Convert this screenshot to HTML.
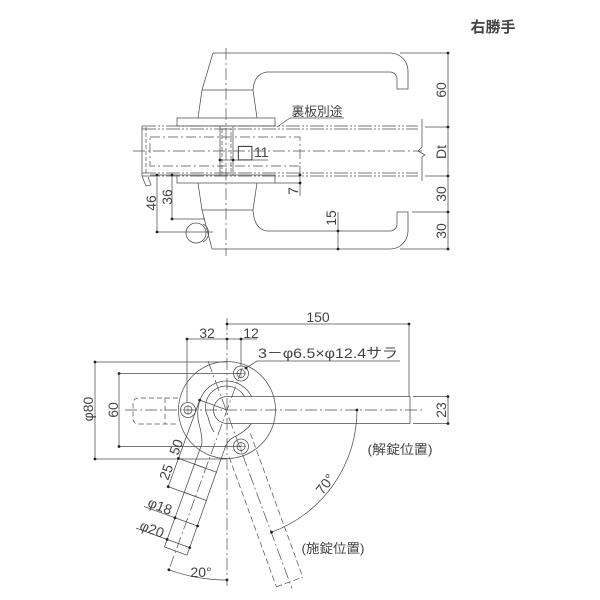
<!DOCTYPE html>
<html><head><meta charset="utf-8">
<style>
html,body{margin:0;padding:0;background:#fff;}
svg{display:block;}
text{font-family:"Liberation Sans","Noto Sans CJK JP","DejaVu Sans",sans-serif;fill:#444;}
</style></head><body>
<svg width="600" height="600" viewBox="0 0 600 600" xmlns="http://www.w3.org/2000/svg">
<rect width="600" height="600" fill="#fff"/>

<!-- ===== TOP VIEW ===== -->
<g stroke="#4d4d4d" stroke-width="0.75" fill="none">
  <path d="M213,53 H390 A18,18 0 0 1 408,71 V89 H397 V79 A7,7 0 0 0 390,72 H267 Q254,74 253,90"/>
  <path d="M213,53 L202,90 L198,118 M202,90 H253 M253,90 L257,118"/>
  <rect x="177" y="118" width="98" height="8"/>
  <rect x="177" y="175" width="98" height="8"/>
  <path d="M198,183 L202,210 L212,249 M202,210 H253 M257,183 L253,210"/>
  <path d="M212,249 H390 A18,18 0 0 0 408,231 V212 H397 V224 A7,7 0 0 1 390,231 H267 Q254,229 253,210"/>
  <path d="M220,126 V176 M233,126 V176"/>
  <path d="M142,126 V176 M142,176 L146,186 L151,185 L148,177"/>
  <path d="M422,119 V147 L418,151 L425,155 L422,157 V181"/>
  <path d="M400,53 H448 M425,127 H448 M425,176 H448 M412,212 H448 M400,249 H448 M448,53 V249"/>
  <path d="M338,212 V249"/>
  <path d="M300,166 V196 M275,183 H300"/>
  <path d="M157,175 V232 M172,175 V219 M172,219 H205 M157,232 H213 M150,175 H177"/>
  <path d="M220,160 H268"/>
  <path d="M290,118 H344 M290,118 L277,127"/>
  <circle cx="196" cy="233" r="10"/>
  <path d="M203,224 A10,10 0 0 1 203,242"/>
</g>
<g stroke="#4d4d4d" stroke-width="0.7" fill="none">
  <path d="M226,48 V256" stroke-dasharray="12 3 2 3"/>
  <path d="M133,151 H422" stroke-dasharray="12 3 2 3"/>
  <path d="M150,137 H300 V166 H150 Z" stroke-dasharray="10 3 2 3"/>
  <path d="M142,126 H418 M142,129 H418 M142,173 H418 M142,176 H418" stroke-dasharray="14 2 2 2 2 2"/>
  <path d="M146,127 V175" stroke-dasharray="4 2"/>
  <rect x="222" y="129" width="9" height="44" stroke-dasharray="4 2"/>
</g>
<g fill="#222">
  <circle cx="448" cy="53" r="1.4"/><circle cx="448" cy="127" r="1.4"/><circle cx="448" cy="176" r="1.4"/>
  <circle cx="448" cy="212" r="1.4"/><circle cx="448" cy="249" r="1.4"/>
  <circle cx="338" cy="231" r="1.4"/><circle cx="338" cy="249" r="1.4"/>
  <circle cx="300" cy="175" r="1.4"/><circle cx="300" cy="183" r="1.4"/>
  <circle cx="157" cy="175" r="1.4"/><circle cx="172" cy="175" r="1.4"/>
  <circle cx="172" cy="219" r="1.4"/><circle cx="157" cy="232" r="1.4"/>
  <circle cx="220" cy="160" r="1.4"/><circle cx="233" cy="160" r="1.4"/>
</g>

<!-- ===== BOTTOM VIEW ===== -->
<g stroke="#4d4d4d" stroke-width="0.75" fill="none">
  <circle cx="227" cy="410" r="48.5"/>
  <path d="M251.8,397 A28,28 0 0 0 200,400 Q196,412 199,424 Q202,434 202,443.5 L164.4,546.9 L187,555.1 L226,445 Q229,439 236,436 Q246,431 251.5,423.5"/>
  <path d="M244.8,397 A20,20 0 0 0 208,417 Q210,426 214,432"/>
  <path d="M227,396.5 H410 V423.5 H227 A13.5,13.5 0 0 1 227,396.5"/>
  <path d="M194.5,464.2 L217,472.4 M184.2,492.4 L206.8,500.6"/>
  <circle cx="188" cy="410" r="7.5"/><circle cx="188" cy="410" r="4"/>
  <circle cx="241" cy="373.5" r="7.5"/><circle cx="241" cy="373.5" r="4"/>
  <circle cx="241" cy="446.5" r="7.5"/><circle cx="241" cy="446.5" r="4"/>
  <path d="M183,410 H193 M188,405 V415 M236,373.5 H246 M241,368.5 V378.5 M236,446.5 H246 M241,441.5 V451.5" stroke-width="0.5"/>
  <!-- dims -->
  <path d="M227,324 H409 M409,324 V396.5"/>
  <path d="M187,339 H257 M187,339 V402 M241,339 V366"/>
  <path d="M95,362 V459 M95,362 H227 M95,459 H227"/>
  <path d="M119,373.5 V446.5 M119,373.5 H241 M119,446.5 H241"/>
  <path d="M448,396.5 V423.5 M413,396.5 H448 M413,423.5 H448"/>
  <path d="M246,368 L257,361 H400"/>
  <path d="M357,410 A130,130 0 0 1 271.5,532.2"/>
  <path d="M227,580 A170,170 0 0 1 168.9,569.8"/>
  <path d="M199.7,400.1 L168.2,486.6 M199.7,400.1 L227,410 M178.5,458.4 L205,468 M168.2,486.6 L198.3,497.5"/>
  <path d="M144,506.5 L197.6,526 M136.1,528.1 L189.7,547.6"/>
</g>
<g stroke="#4d4d4d" stroke-width="0.7" fill="none">
  <path d="M250.4,433.4 L302.8,577.2 M229.2,457.1 L276.4,586.8 M276.4,586.8 L302.8,577.2" stroke-dasharray="6 3"/>
  <path d="M208,361 L292,588.6" stroke-dasharray="12 3 2 3"/>
  <path d="M242.4,367.7 L168.9,569.8" stroke-dasharray="12 3 2 3"/>
  <path d="M178,398 H139 Q133,398 133,404 V418 Q133,424 139,424 H176 M165,398 V424" stroke-dasharray="5 3"/>
  <path d="M125,410 H422" stroke-dasharray="12 3 2 3"/>
  <path d="M227,318 V586" stroke-dasharray="12 3 2 3"/>
</g>
<g fill="#222">
  <circle cx="227" cy="324" r="1.4"/><circle cx="409" cy="324" r="1.4"/>
  <circle cx="187" cy="339" r="1.4"/><circle cx="227" cy="339" r="1.4"/><circle cx="241" cy="339" r="1.4"/>
  <circle cx="95" cy="362" r="1.4"/><circle cx="95" cy="459" r="1.4"/>
  <circle cx="119" cy="373.5" r="1.4"/><circle cx="119" cy="446.5" r="1.4"/>
  <circle cx="448" cy="396.5" r="1.4"/><circle cx="448" cy="423.5" r="1.4"/>
  <circle cx="357" cy="410" r="1.4"/><circle cx="271.5" cy="532.2" r="1.4"/>
  <circle cx="227" cy="580" r="1.4"/><circle cx="168.9" cy="569.8" r="1.4"/>
  <circle cx="199.7" cy="400.1" r="1.4"/><circle cx="178.5" cy="458.4" r="1.4"/><circle cx="168.2" cy="486.6" r="1.4"/>
  <circle cx="175" cy="517.8" r="1.4"/><circle cx="197.6" cy="526" r="1.4"/>
  <circle cx="167.1" cy="539.4" r="1.4"/><circle cx="189.7" cy="547.6" r="1.4"/>
  <circle cx="246" cy="368" r="1.4"/>
</g>

<!-- ===== TEXT ===== -->
<text x="493" y="32" font-size="15" font-weight="bold" text-anchor="middle" fill="#222">右勝手</text>
<text x="317" y="116" font-size="13" text-anchor="middle" textLength="51" lengthAdjust="spacingAndGlyphs">裏板別途</text>
<text x="236" y="157" font-size="14"><tspan font-family="DejaVu Sans" font-size="19" dy="1">□</tspan><tspan dy="-1">11</tspan></text>

<g font-size="14" text-anchor="middle">
  <text transform="translate(441,90) rotate(-90)" dy="5">60</text>
  <text transform="translate(441,152) rotate(-90)" dy="5">Dt</text>
  <text transform="translate(441,194) rotate(-90)" dy="5">30</text>
  <text transform="translate(441,231) rotate(-90)" dy="5">30</text>
  <text transform="translate(331,218) rotate(-90)" dy="5">15</text>
  <text transform="translate(293,191) rotate(-90)" dy="5">7</text>
  <text transform="translate(151,203) rotate(-90)" dy="5">46</text>
  <text transform="translate(167,197) rotate(-90)" dy="5">36</text>

  <text x="318" y="322">150</text>
  <text x="207" y="338">32</text>
  <text x="251" y="338">12</text>
  <text transform="translate(88,409) rotate(-90)" dy="5">φ80</text>
  <text transform="translate(113,410) rotate(-90)" dy="5">60</text>
  <text transform="translate(441,410) rotate(-90)" dy="5">23</text>
  <text transform="translate(176,447) rotate(-70)" dy="5">50</text>
  <text transform="translate(166,472) rotate(-70)" dy="5">25</text>
  <text transform="translate(160,506) rotate(21)" dy="5">φ18</text>
  <text transform="translate(152,529) rotate(21)" dy="5">φ20</text>
  <text transform="translate(325,484) rotate(-53)" dy="5">70°</text>
  <text x="201" y="577">20°</text>
</g>
<text x="258" y="358" font-size="14" textLength="140" lengthAdjust="spacingAndGlyphs">3－φ6.5×φ12.4サラ</text>
<text x="400" y="454" font-size="13" text-anchor="middle" textLength="65" lengthAdjust="spacingAndGlyphs">(解錠位置)</text>
<text x="333" y="553" font-size="13" text-anchor="middle" textLength="63" lengthAdjust="spacingAndGlyphs">(施錠位置)</text>
</svg>
</body></html>
